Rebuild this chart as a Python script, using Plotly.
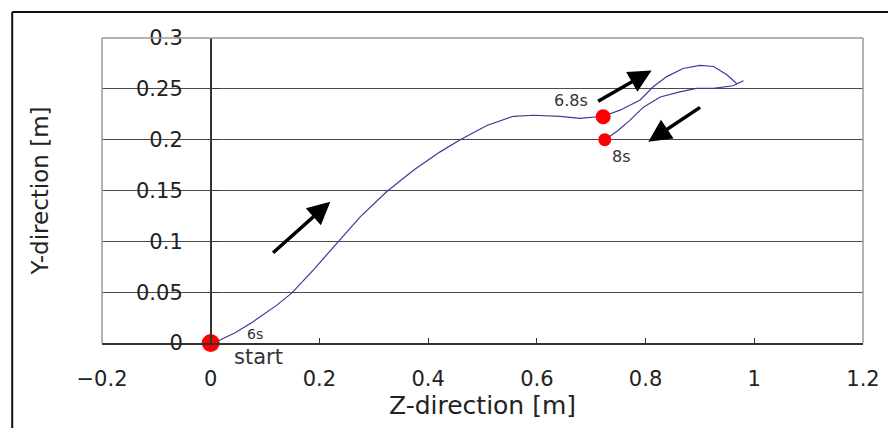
import plotly.graph_objects as go

# Trajectory (Z, Y) in metres
z_path = [0.000, 0.017, 0.045, 0.078, 0.121, 0.149, 0.189, 0.232, 0.275, 0.324,
          0.373, 0.422, 0.459, 0.508, 0.557, 0.593, 0.643, 0.679, 0.713, 0.722,
          0.753, 0.790, 0.814, 0.839, 0.869, 0.900, 0.925, 0.949, 0.968, 0.980,
          0.961, 0.925, 0.894, 0.863, 0.827, 0.796, 0.771, 0.747, 0.725]
y_path = [0.000, 0.003, 0.010, 0.021, 0.037, 0.049, 0.072, 0.098, 0.124, 0.149,
          0.170, 0.188, 0.200, 0.214, 0.223, 0.224, 0.223, 0.221, 0.223, 0.223,
          0.229, 0.239, 0.252, 0.262, 0.270, 0.273, 0.272, 0.264, 0.255, 0.258,
          0.253, 0.2505, 0.2505, 0.247, 0.242, 0.232, 0.219, 0.208, 0.200]

# Marked time points
marker_z = [0.0, 0.722, 0.725]
marker_y = [0.0, 0.2225, 0.200]
marker_size = [18, 15, 13]

# Tick labels
x_ticks = [-0.2, 0, 0.2, 0.4, 0.6, 0.8, 1.0, 1.2]
x_tick_text = ["\u22120.2", "0", "0.2", "0.4", "0.6", "0.8", "1", "1.2"]
y_ticks = [0, 0.05, 0.1, 0.15, 0.2, 0.25, 0.3]
y_tick_text = ["0", "0.05", "0.1", "0.15", "0.2", "0.25", "0.3"]

# Direction arrows: (tail_z, tail_y, head_z, head_y)
arrows = [(0.112, 0.0875, 0.220, 0.139),
          (0.710, 0.237, 0.811, 0.268),
          (0.903, 0.2327, 0.805, 0.198)]

# Text labels: (text, z, y, size, pixel y-shift)
labels = [("6.8s", 0.662, 0.2385, 16, 0),
          ("8s", 0.756, 0.183, 16, 0),
          ("6s", 0.0815, 0.0089, 14, 0),
          ("start", 0.087, 0.0, 21, -14)]

FONT = "DejaVu Sans, Liberation Sans, Arial, sans-serif"

fig = go.Figure()
fig.add_trace(go.Scatter(x=z_path, y=y_path, mode="lines",
                         line=dict(color="#3a3a9a", width=1.2),
                         hoverinfo="skip", showlegend=False))
fig.add_trace(go.Scatter(x=marker_z, y=marker_y, mode="markers",
                         marker=dict(color="#ff0000", size=marker_size, opacity=1,
                                     line=dict(width=0)),
                         showlegend=False, cliponaxis=False))

for tz, ty, hz, hy in arrows:
    fig.add_annotation(x=hz, y=hy, ax=tz, ay=ty, xref="x", yref="y",
                       axref="x", ayref="y", showarrow=True, text="",
                       arrowhead=2, arrowsize=1.3, arrowwidth=3.5, arrowcolor="#000000")

for txt, lz, ly, sz, ys in labels:
    fig.add_annotation(x=lz, y=ly, xref="x", yref="y", text=txt, showarrow=False,
                       yshift=ys, font=dict(family=FONT, size=sz, color="#333333"))

# Plot-area border (gray): left, top, right
border = "#9a9a9a"
fig.add_shape(type="line", xref="paper", yref="paper", x0=0, x1=0, y0=0, y1=1,
              line=dict(color=border, width=1.5), layer="above")
fig.add_shape(type="line", xref="paper", yref="paper", x0=0, x1=1, y0=1, y1=1,
              line=dict(color=border, width=1.5), layer="above")
fig.add_shape(type="line", xref="paper", yref="paper", x0=1, x1=1, y0=0, y1=1,
              line=dict(color=border, width=1.5), layer="above")
# Outer frame (black), left and top
fig.add_shape(type="line", xref="paper", yref="paper", x0=-0.118, x1=-0.118, y0=-0.3, y1=1.085,
              line=dict(color="#111111", width=2))
fig.add_shape(type="line", xref="paper", yref="paper", x0=-0.118, x1=1.1, y0=1.085, y1=1.085,
              line=dict(color="#111111", width=2))

fig.update_layout(
    width=888, height=420,
    margin=dict(l=94, r=33, t=30, b=85),
    paper_bgcolor="white", plot_bgcolor="white",
    font=dict(family=FONT, color="#222222"),
    xaxis=dict(range=[-0.2, 1.2], tickvals=x_ticks, ticktext=x_tick_text,
               showgrid=False, zeroline=False, showline=True, linecolor="#333333",
               linewidth=1.5, ticks="inside", ticklen=5, tickcolor="#333333",
               tickfont=dict(size=21, color="#222222"), ticklabelstandoff=16,
               title=dict(text="Z-direction [m]", font=dict(size=25, color="#222222"), standoff=6)),
    yaxis=dict(range=[0, 0.3], tickvals=y_ticks, ticktext=y_tick_text,
               anchor="free", position=(0 + 0.2) / 1.4,
               showgrid=True, gridcolor="#4a4a4a", gridwidth=1.3, zeroline=False,
               showline=True, linecolor="#333333", linewidth=1.5,
               ticks="inside", ticklen=8, tickcolor="#333333",
               tickfont=dict(size=21, color="#222222"), ticklabelstandoff=23,
               title=dict(text="Y-direction [m]", font=dict(size=23, color="#222222"), standoff=80)),
)

fig.write_html("out.html")
